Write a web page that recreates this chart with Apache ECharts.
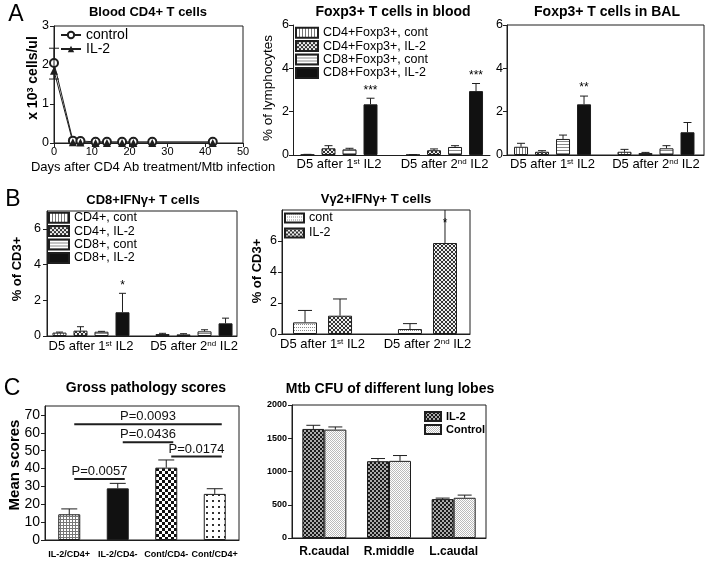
<!DOCTYPE html>
<html><head><meta charset="utf-8">
<script src="https://cdn.jsdelivr.net/npm/echarts@6/dist/echarts.min.js"></script>
<style>html,body{margin:0;padding:0;background:#fff}#c{width:710px;height:564px}</style>
</head><body><div id="c"></div><script>
// ---------------- data ----------------
const a1Days = [0, 5, 7, 11, 14, 18, 21, 26, 42];
const a1Control = [2.05, 0.06, 0.05, 0.03, 0.03, 0.03, 0.03, 0.03, 0.03];
const a1IL2 = [1.85, 0.02, 0.01, 0.0, 0.0, 0.0, 0.0, 0.0, 0.0];
const a1Err = [[0, 1.64, 2.43]];

const ilCats = ['D5 after 1{sup|st} IL2', 'D5 after 2{sup|nd} IL2'];
const foxNames = ['CD4+Foxp3+, cont', 'CD4+Foxp3+, IL-2', 'CD8+Foxp3+, cont', 'CD8+Foxp3+, IL-2'];
const bloodVals = [[0.02, 0.01], [0.31, 0.22], [0.26, 0.37], [2.34, 2.95]];
const bloodErr  = [[0.03, 0.02], [0.43, 0.28], [0.31, 0.43], [2.62, 3.30]];
const bloodStars = [['', ''], ['', ''], ['', ''], ['***', '***']];
const balVals = [[0.38, 0.15], [0.15, 0.09], [0.74, 0.31], [2.34, 1.05]];
const balErr  = [[0.54, 0.26], [0.20, 0.12], [0.92, 0.43], [2.72, 1.50]];
const balStars = [['', ''], ['', ''], ['', ''], ['**', '']];

const b1Names = ['CD4+, cont', 'CD4+, IL-2', 'CD8+, cont', 'CD8+, IL-2'];
const b1Vals = [[0.19, 0.11], [0.30, 0.09], [0.24, 0.26], [1.33, 0.71]];
const b1Err  = [[0.22, 0.15], [0.52, 0.13], [0.26, 0.35], [2.39, 1.00]];
const b1Stars = [['', ''], ['', ''], ['', ''], ['*', '']];

const b2Names = ['cont', 'IL-2'];
const b2Vals = [[0.75, 0.32], [1.18, 5.87]];
const b2Err  = [[1.52, 0.67], [2.26, 9.5]];
const b2Stars = [['', ''], ['', '*']];

const c1Cats = ['IL-2/CD4+', 'IL-2/CD4-', 'Cont/CD4-', 'Cont/CD4+'];
const c1Vals = [14.4, 28.9, 40.5, 25.8];
const c1Err  = [17.4, 31.7, 44.8, 28.7];
const c1Sig = [[0, 3, 64.8], [1, 2, 54.7], [2, 3, 46.7], [0, 1, 34.2]];
const c1SigText = ['P=0.0093', 'P=0.0436', 'P=0.0174', 'P=0.0057'];

const c2Cats = ['R.caudal', 'R.middle', 'L.caudal'];
const c2Names = ['IL-2', 'Control'];
const c2Vals = [[1640, 1155, 585], [1630, 1160, 605]];
const c2Err  = [[1695, 1195, 600], [1670, 1240, 645]];

// ---------------- styles ----------------
const FONT = '"Liberation Sans", Arial, sans-serif';
const INK = '#1e1e1e';
function pat(w, h, bg, draw) {
  const c = document.createElement('canvas'); c.width = w; c.height = h;
  const g = c.getContext('2d'); g.fillStyle = bg; g.fillRect(0, 0, w, h); draw(g);
  return { image: c, repeat: 'repeat' };
}
const P = {
  vstripe: pat(3, 3, '#fff', g => { g.fillStyle = '#777'; g.fillRect(0, 0, 1, 3); }),
  cross: pat(4, 4, '#eee', g => { g.fillStyle = '#333'; for (let i = 0; i < 4; i++) { g.fillRect(i, i, 1, 1); g.fillRect(3 - i, i, 1, 1); } }),
  hstripe: pat(3, 3, '#fff', g => { g.fillStyle = '#8a8a8a'; g.fillRect(0, 0, 3, 1); }),
  solid: '#111',
  dotrow: pat(4, 3, '#fff', g => { g.fillStyle = '#888'; g.fillRect(0, 0, 1, 1); g.fillRect(2, 0, 1, 1); }),
  grid: pat(3, 3, '#fff', g => { g.fillStyle = '#777'; g.fillRect(0, 0, 3, 1); g.fillRect(0, 0, 1, 3); }),
  checker: pat(6, 6, '#fff', g => { g.fillStyle = '#111'; g.fillRect(0, 0, 3, 3); g.fillRect(3, 3, 3, 3); }),
  sparse: pat(6, 6, '#fff', g => { g.fillStyle = '#333'; g.fillRect(2, 2, 2, 2); }),
  darkCheck: pat(4, 4, '#aaa', g => { g.fillStyle = '#1a1a1a'; g.fillRect(0, 0, 2, 2); g.fillRect(2, 2, 2, 2); }),
  lightCheck: pat(2, 2, '#fff', g => { g.fillStyle = '#bbb'; g.fillRect(0, 0, 1, 1); g.fillRect(1, 1, 1, 1); })
};
const foxColors = [P.vstripe, P.cross, P.hstripe, P.solid];
const b2Colors = [P.dotrow, P.cross];
const c1Colors = [P.grid, P.solid, P.checker, P.sparse];
const c2Colors = [P.darkCheck, P.lightCheck];
const LBL = { a1c: 'control', a1i: 'IL-2', b2c: 'cont', b2i: 'IL-2', c2i: 'IL-2', c2c: 'Control' };

// ---------------- helpers ----------------
function valAxis(gi, min, max, interval, lab) {
  return {
    type: 'value', gridIndex: gi, min, max, interval,
    axisLine: { show: true, onZero: false, lineStyle: { color: INK, width: 1 } },
    axisTick: { show: true, length: 4, lineStyle: { color: INK } },
    axisLabel: Object.assign({ color: '#000', fontFamily: FONT, fontSize: 12.5, margin: 4 }, lab || {}),
    splitLine: { show: false }
  };
}
function catAxis(gi, data, lab) {
  return {
    type: 'category', gridIndex: gi, data,
    axisLine: { show: true, onZero: false, lineStyle: { color: INK, width: 1 } },
    axisTick: { show: false },
    axisLabel: Object.assign({ color: '#000', fontFamily: FONT, fontSize: 13, margin: 4, interval: 0 }, lab || {}),
    splitLine: { show: false }
  };
}
// group axis: value axis whose group positions are the category indexes 0, 1
function groupAxis(gi, cats, min, max, margin) {
  return {
    type: 'value', gridIndex: gi, min, max,
    axisLine: { show: true, onZero: false, lineStyle: { color: INK, width: 1 } },
    axisTick: { show: false },
    splitLine: { show: false },
    axisLabel: {
      color: '#000', fontFamily: FONT, fontSize: 13, margin,
      customValues: cats.map((c, i) => i),
      formatter: v => (Math.abs(v - Math.round(v)) < 1e-6 && cats[Math.round(v)] !== undefined) ? cats[Math.round(v)] : '',
      rich: { sup: { fontSize: 8, verticalAlign: 'top', fontFamily: FONT, color: '#000' } }
    }
  };
}
function barS(name, gi, vals, color, bw, gap, numeric) {
  return {
    type: 'bar', name, xAxisIndex: gi, yAxisIndex: gi, barWidth: bw, barGap: gap,
    data: numeric ? vals.map((v, k) => [k, v]) : vals,
    itemStyle: { color, borderColor: INK, borderWidth: 1 }, silent: true
  };
}
function ln(x1, y1, x2, y2, w) {
  return { type: 'line', shape: { x1, y1, x2, y2 }, style: { stroke: INK, lineWidth: w || 1 } };
}
function errS(gi, vals, errs, stars, i, n, bw, gapPx, capW) {
  return {
    type: 'custom', xAxisIndex: gi, yAxisIndex: gi, silent: true, clip: true, z: 5,
    data: vals.map((v, k) => [k, v, errs[k]]),
    renderItem: (params, api) => {
      const c = api.value(0);
      const p0 = api.coord([c, api.value(1)]);
      const p1 = api.coord([c, api.value(2)]);
      const x = p0[0] + (i - (n - 1) / 2) * (bw + gapPx);
      const ch = [ln(x, p0[1], x, p1[1]), ln(x - capW / 2, p1[1], x + capW / 2, p1[1])];
      const s = stars && stars[params.dataIndex];
      if (s) {
        const cs = params.coordSys;
        const sy = Math.max(p1[1] - 2, cs.y + 20);
        ch.push({ type: 'text', style: { text: s, x, y: sy, align: 'center', verticalAlign: 'bottom', fontSize: 12, fontFamily: FONT, fill: '#000' } });
      }
      return { type: 'group', children: ch };
    }
  };
}
function T(text, x, y, size, weight, rot, rich) {
  const el = { type: 'text', x, y, style: { text, align: 'center', verticalAlign: 'middle', fontSize: size, fontWeight: weight || 'normal', fontFamily: FONT, fill: '#000' } };
  if (rot) el.rotation = Math.PI / 2;
  if (rich) el.style.rich = rich;
  return el;
}

// ---------------- build ----------------
const grid = [
  { left: 54, top: 26, width: 189, height: 117, show: true, borderColor: INK, borderWidth: 1 },
  { left: 293, top: 25, width: 197, height: 130 },
  { left: 507, top: 25, width: 197, height: 130, show: true, borderColor: INK, borderWidth: 1 },
  { left: 47, top: 211, width: 190, height: 125, show: true, borderColor: INK, borderWidth: 1 },
  { left: 282, top: 210, width: 188, height: 124, show: true, borderColor: INK, borderWidth: 1 },
  { left: 45, top: 406, width: 194, height: 134, show: true, borderColor: INK, borderWidth: 1 },
  { left: 292, top: 405, width: 194, height: 133, show: true, borderColor: INK, borderWidth: 1 }
];
const xAxis = [
  valAxis(0, 0, 50, 10, { fontSize: 11, margin: 3 }),
  groupAxis(1, ilCats, -0.436, 1.431, 3),
  groupAxis(2, ilCats, -0.44, 1.464, 3),
  groupAxis(3, ilCats, -0.427, 1.417, 4),
  groupAxis(4, ilCats, -0.386, 1.405, 4),
  catAxis(5, c1Cats, { fontSize: 9, fontWeight: 'bold', margin: 10 }),
  catAxis(6, c2Cats, { fontSize: 12, fontWeight: 'bold', margin: 8 })
];
const yAxis = [
  valAxis(0, 0, 3, 1, { margin: 5 }),
  valAxis(1, 0, 6, 2, { margin: 4 }),
  valAxis(2, 0, 6, 2, { margin: 4 }),
  valAxis(3, 0, 7, 2, { margin: 6, showMaxLabel: false }),
  valAxis(4, 0, 8, 2, { margin: 5, showMaxLabel: false }),
  valAxis(5, 0, 75, 10, { margin: 5, fontSize: 14, showMaxLabel: false }),
  valAxis(6, 0, 2000, 500, { margin: 5, fontSize: 9, fontWeight: 'bold', formatter: v => String(v) })
];
const series = [];
// A1 lines
series.push({ type: 'line', name: 'a1c', xAxisIndex: 0, yAxisIndex: 0, data: a1Days.map((d, i) => [d, a1Control[i]]),
  symbol: 'emptyCircle', symbolSize: 8, lineStyle: { color: INK, width: 1 }, itemStyle: { color: INK, borderWidth: 1 }, silent: true });
series.push({ type: 'line', name: 'a1i', xAxisIndex: 0, yAxisIndex: 0, data: a1Days.map((d, i) => [d, a1IL2[i]]),
  symbol: 'triangle', symbolSize: 8, lineStyle: { color: INK, width: 1 }, itemStyle: { color: INK }, silent: true });
series.push({ type: 'custom', xAxisIndex: 0, yAxisIndex: 0, silent: true, z: 5, data: a1Err,
  renderItem: (p, api) => {
    const a = api.coord([api.value(0), api.value(1)]), b = api.coord([api.value(0), api.value(2)]);
    return { type: 'group', children: [ln(a[0], a[1], b[0], b[1]), ln(a[0] - 5, a[1], a[0] + 5, a[1]), ln(b[0] - 5, b[1], b[0] + 5, b[1])] };
  } });
// A2, A3
for (let i = 0; i < 4; i++) {
  series.push(barS(foxNames[i], 1, bloodVals[i], foxColors[i], 14, '50%', true));
  series.push(errS(1, bloodVals[i], bloodErr[i], bloodStars[i], i, 4, 14, 7, 8));
}
for (let i = 0; i < 4; i++) {
  series.push(barS('bal' + i, 2, balVals[i], foxColors[i], 14, '50%', true));
  series.push(errS(2, balVals[i], balErr[i], balStars[i], i, 4, 14, 7, 8));
}
// B1
for (let i = 0; i < 4; i++) {
  series.push(barS(b1Names[i], 3, b1Vals[i], foxColors[i], 14, '50%', true));
  series.push(errS(3, b1Vals[i], b1Err[i], b1Stars[i], i, 4, 14, 7, 7));
}
// B2
const b2Keys = ['b2c', 'b2i'];
for (let i = 0; i < 2; i++) {
  series.push(barS(b2Keys[i], 4, b2Vals[i], b2Colors[i], 24, '46%', true));
  series.push(errS(4, b2Vals[i], b2Err[i], b2Stars[i], i, 2, 24, 11, 14));
}
// C1
series.push({ type: 'bar', name: 'c1', xAxisIndex: 5, yAxisIndex: 5, barWidth: 22, silent: true,
  data: c1Vals.map((v, k) => ({ value: v, itemStyle: { color: c1Colors[k], borderColor: INK, borderWidth: 1 } })) });
series.push(errS(5, c1Vals, c1Err, null, 0, 1, 22, 0, 16));
series.push({ type: 'custom', xAxisIndex: 5, yAxisIndex: 5, silent: true, z: 5, data: c1Sig,
  renderItem: (params, api) => {
    const a = api.coord([api.value(0), api.value(2)]), b = api.coord([api.value(1), api.value(2)]);
    const x1 = a[0] + 5, x2 = b[0] + 7;
    return { type: 'group', children: [ln(x1, a[1], x2, a[1], 2),
      { type: 'text', style: { text: c1SigText[params.dataIndex], x: (x1 + x2) / 2, y: a[1] - 1, align: 'center', verticalAlign: 'bottom', fontSize: 13, fontFamily: FONT, fill: '#111' } }] };
  } });
// C2
const c2Keys = ['c2i', 'c2c'];
for (let i = 0; i < 2; i++) {
  series.push(barS(c2Keys[i], 6, c2Vals[i], c2Colors[i], 22, '0%'));
  series.push(errS(6, c2Vals[i], c2Err[i], null, i, 2, 22, 0, 14));
}

const legBase = { orient: 'vertical', selectedMode: false, padding: 0, formatter: n => LBL[n] || n };
const legend = [
  Object.assign({}, legBase, { data: ['a1c', 'a1i'], left: 60, top: 28, itemWidth: 20, itemHeight: 8, itemGap: 0,
    textStyle: { fontSize: 14, fontFamily: FONT, color: '#000', lineHeight: 14 } }),
  Object.assign({}, legBase, { data: foxNames, icon: 'rect', left: 295, top: 26, itemWidth: 22, itemHeight: 10, itemGap: 0,
    textStyle: { fontSize: 12.5, fontFamily: FONT, color: '#000', lineHeight: 13.4 } }),
  Object.assign({}, legBase, { data: b1Names, icon: 'rect', left: 48, top: 211, itemWidth: 20, itemHeight: 10, itemGap: 0,
    textStyle: { fontSize: 12.5, fontFamily: FONT, color: '#000', lineHeight: 13.4 } }),
  Object.assign({}, legBase, { data: b2Keys, icon: 'rect', left: 284, top: 211, itemWidth: 19, itemHeight: 9, itemGap: 1,
    textStyle: { fontSize: 12.5, fontFamily: FONT, color: '#000', lineHeight: 14 } }),
  Object.assign({}, legBase, { data: c2Keys, icon: 'rect', left: 424, top: 410, itemWidth: 16, itemHeight: 9, itemGap: 0,
    textStyle: { fontSize: 11, fontWeight: 'bold', fontFamily: FONT, color: '#000', lineHeight: 13 } })
];

const supRich = { sup: { fontSize: 9, verticalAlign: 'top', fontWeight: 'bold', fontFamily: FONT, fill: '#000' } };
const graphic = [
  T('A', 16, 15, 23),
  T('B', 13, 200, 23),
  T('C', 12, 389, 23),
  T('Blood CD4+ T cells', 148, 12, 13, 'bold'),
  T('Foxp3+ T cells in blood', 393, 12, 14, 'bold'),
  T('Foxp3+ T cells in BAL', 607, 12, 14, 'bold'),
  T('CD8+IFNγ+ T cells', 143, 200, 13, 'bold'),
  T('Vγ2+IFNγ+ T cells', 376, 199, 13, 'bold'),
  T('Gross pathology scores', 146, 388, 14, 'bold'),
  T('Mtb CFU of different lung lobes', 390, 389, 14, 'bold'),
  T('Days after CD4 Ab treatment/Mtb infection', 153, 167, 13),
  T('x 10{sup|3} cells/ul', 33, 78, 14, 'bold', true, supRich),
  T('% of lymphocytes', 268, 88, 13.5, 'normal', true),
  T('% of CD3+', 17, 269, 13, 'bold', true),
  T('% of CD3+', 257, 271, 13, 'bold', true),
  T('Mean scores', 15, 465, 15, 'bold', true)
];

const chart = echarts.init(document.getElementById('c'), null, { renderer: 'canvas', width: 710, height: 564 });
chart.setOption({
  backgroundColor: '#fff', animation: false,
  textStyle: { fontFamily: FONT },
  grid, xAxis, yAxis, series, legend, graphic
});
</script></body></html>
